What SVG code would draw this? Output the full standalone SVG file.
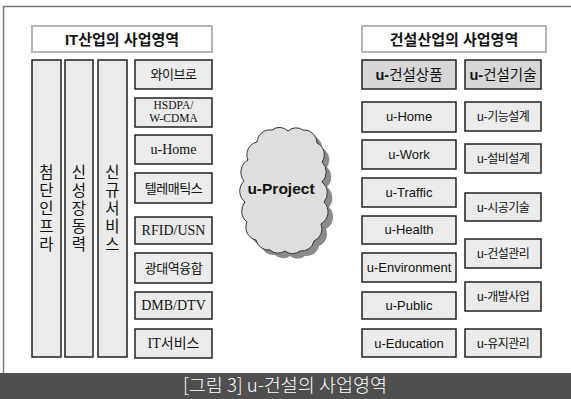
<svg xmlns="http://www.w3.org/2000/svg" width="571" height="399" viewBox="0 0 571 399">
<style>
.bg{fill:#ffffff}
.frame{fill:none;stroke:#7a7a7a;stroke-width:1.5}
.title{fill:#ffffff;stroke:#b4b4b4;stroke-width:2}
.ttl{font-family:"Liberation Sans","Noto Sans CJK KR",sans-serif;font-weight:bold;font-size:15px;fill:#111;text-anchor:middle}
.box{fill:#ebebeb;stroke:#222;stroke-width:1.5}
.hbox{fill:#d6d6d6;stroke:#222;stroke-width:1.5}
.ser{font-family:"Liberation Serif","Noto Sans CJK KR",serif;font-size:14px;fill:#111;text-anchor:middle}
.ser-s{font-family:"Liberation Serif","Noto Sans CJK KR",serif;font-size:11.5px;fill:#111;text-anchor:middle}
.kor{font-family:"Noto Sans CJK KR",sans-serif;font-size:13px;fill:#111;text-anchor:middle;letter-spacing:-0.5px}
.vert{font-family:"Noto Sans CJK KR",sans-serif;font-size:15.5px;fill:#111;writing-mode:vertical-rl;text-orientation:upright;letter-spacing:2.5px}
.san{font-family:"Liberation Sans","Noto Sans CJK KR",sans-serif;font-size:13px;fill:#111;text-anchor:middle}
.hdr{font-family:"Liberation Sans","Noto Sans CJK KR",sans-serif;font-size:14.5px;fill:#111;text-anchor:middle}
.cloud{fill:#dedede;stroke:#333;stroke-width:1}
.shadow{fill:#8a8a8a}
.bar{fill:#4f4f4f}
.cap{font-family:"Noto Sans CJK KR",sans-serif;font-size:18.5px;font-weight:300;fill:#ffffff;text-anchor:middle}
</style>
<defs>
<path id="cloudPath" d="M257,142 A13,13 0 0 1 272,130 A12,12 0 0 1 288,131 A12,12 0 0 1 303,130 A13,13 0 0 1 317,143 A13,13 0 0 1 322,162 A14,14 0 0 1 322,182 A14,14 0 0 1 324,202 A14,14 0 0 1 321,224 A13,13 0 0 1 314,241 A13,13 0 0 1 300,251 A12,12 0 0 1 285,251 A12,12 0 0 1 270,250 A13,13 0 0 1 256,240 A13,13 0 0 1 247,222 A14,14 0 0 1 245,202 A14,14 0 0 1 244,181 A14,14 0 0 1 248,160 A13,13 0 0 1 257,142 Z"/>
</defs>
<rect class="bg" x="0" y="0" width="571" height="399"/>
<path class="frame" d="M3.5,373 V6.5 H571"/>

<g id="it-title">
<rect class="title" x="32" y="26" width="180" height="26"/>
<text class="ttl" x="122" y="44.5">IT산업의 사업영역</text>
</g>

<g id="col-infra">
<rect class="box" x="32" y="60" width="29" height="297"/>
<text class="vert" x="46.5" y="164">첨단인프라</text>
</g>
<g id="col-growth">
<rect class="box" x="65" y="60" width="28" height="297"/>
<text class="vert" x="79" y="164">신성장동력</text>
</g>
<g id="col-new">
<rect class="box" x="98" y="60" width="29" height="297"/>
<text class="vert" x="112.5" y="164">신규서비스</text>
</g>

<g id="it-wibro"><rect class="box" x="135" y="60" width="77" height="29"/><text class="kor" x="173.5" y="79">와이브로</text></g>
<g id="it-hsdpa"><rect class="box" x="135" y="98" width="77" height="29"/><text class="ser-s" x="173.5" y="109">HSDPA/</text><text class="ser-s" x="173.5" y="122">W-CDMA</text></g>
<g id="it-uhome"><rect class="box" x="135" y="135" width="77" height="29"/><text class="ser" x="173.5" y="154">u-Home</text></g>
<g id="it-telematics"><rect class="box" x="135" y="173" width="77" height="30"/><text class="kor" x="173.5" y="192.5">텔레매틱스</text></g>
<g id="it-rfid"><rect class="box" x="135" y="217" width="77" height="27"/><text class="ser" x="173.5" y="235">RFID/USN</text></g>
<g id="it-broadband"><rect class="box" x="135" y="253" width="77" height="30"/><text class="kor" x="173.5" y="272.5">광대역융합</text></g>
<g id="it-dmb"><rect class="box" x="135" y="292" width="77" height="27"/><text class="ser" x="173.5" y="310">DMB/DTV</text></g>
<g id="it-service"><rect class="box" x="135" y="329" width="77" height="29"/><text class="ser" x="173.5" y="348">IT서비스</text></g>

<g id="u-project">
<use href="#cloudPath" class="shadow" transform="translate(5,5)"/>
<use href="#cloudPath" class="cloud"/>
<text class="ttl" x="281" y="194" style="font-size:15.5px">u-Project</text>
</g>

<g id="con-title">
<rect class="title" x="362" y="26" width="184" height="26"/>
<text class="ttl" x="454" y="44.5">건설산업의 사업영역</text>
</g>

<g id="u-product"><rect class="hbox" x="362" y="60" width="94" height="29"/><text class="hdr" x="409" y="80"><tspan font-weight="bold">u-</tspan>건설상품</text></g>
<g id="u-home"><rect class="box" x="362" y="102" width="94" height="30"/><text class="san" x="409" y="121">u-Home</text></g>
<g id="u-work"><rect class="box" x="362" y="140" width="94" height="29"/><text class="san" x="409" y="158.5">u-Work</text></g>
<g id="u-traffic"><rect class="box" x="362" y="178" width="94" height="29"/><text class="san" x="409" y="196.5">u-Traffic</text></g>
<g id="u-health"><rect class="box" x="362" y="216" width="94" height="28"/><text class="san" x="409" y="234">u-Health</text></g>
<g id="u-environment"><rect class="box" x="362" y="253" width="94" height="29"/><text class="san" x="409" y="272">u-Environment</text></g>
<g id="u-public"><rect class="box" x="362" y="292" width="94" height="27"/><text class="san" x="409" y="310">u-Public</text></g>
<g id="u-education"><rect class="box" x="362" y="329" width="94" height="28"/><text class="san" x="409" y="347.5">u-Education</text></g>

<g id="u-tech"><rect class="hbox" x="465" y="60" width="76" height="29"/><text class="hdr" x="503" y="80"><tspan font-weight="bold">u-</tspan>건설기술</text></g>
<g id="u-func"><rect class="box" x="465" y="102" width="76" height="29"/><text class="kor" x="503" y="120.5" style="font-size:12px">u-기능설계</text></g>
<g id="u-equip"><rect class="box" x="465" y="144" width="76" height="29"/><text class="kor" x="503" y="162.5" style="font-size:12px">u-설비설계</text></g>
<g id="u-construct"><rect class="box" x="465" y="193" width="76" height="28"/><text class="kor" x="503" y="211.5" style="font-size:12px">u-시공기술</text></g>
<g id="u-manage"><rect class="box" x="465" y="239" width="76" height="29"/><text class="kor" x="503" y="257.5" style="font-size:12px">u-건설관리</text></g>
<g id="u-develop"><rect class="box" x="465" y="282" width="76" height="29"/><text class="kor" x="503" y="300.5" style="font-size:12px">u-개발사업</text></g>
<g id="u-maintain"><rect class="box" x="465" y="329" width="76" height="28"/><text class="kor" x="503" y="347.5" style="font-size:12px">u-유지관리</text></g>

<g id="connectors"></g>

<g id="caption">
<rect class="bar" x="0" y="373" width="571" height="26"/>
<text class="cap" x="285" y="392">[그림 3] u-건설의 사업영역</text>
</g>
</svg>
